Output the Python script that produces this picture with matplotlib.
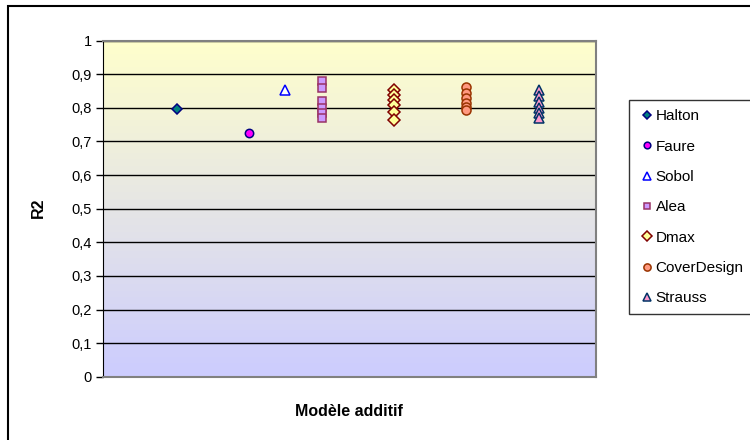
import matplotlib.pyplot as plt
import numpy as np
from matplotlib.patches import Rectangle

plt.rcParams['font.family'] = ['Liberation Sans', 'DejaVu Sans']

# valeurs
series = ['Halton', 'Faure', 'Sobol', 'Alea', 'Dmax', 'CoverDesign', 'Strauss']
x_pos = [1, 2, 2.5, 3, 4, 5, 6]
halton = [0.798]
faure = [0.725]
sobol = [0.853]
alea = [0.88, 0.86, 0.82, 0.80, 0.785, 0.77]
dmax = [0.853, 0.838, 0.823, 0.808, 0.789, 0.764]
coverdesign = [0.863, 0.845, 0.829, 0.814, 0.802, 0.794]
strauss = [0.853, 0.834, 0.818, 0.799, 0.784, 0.769]
values = [halton, faure, sobol, alea, dmax, coverdesign, strauss]

markers = ['D', 'o', '^', 's', 'D', 'o', '^']
faces = ['#008080', '#FF00FF', 'white', '#CC99FF', '#FFFF99', '#FF9980', '#FF99CC']
edges = ['#000080', '#000080', '#0000FF', '#993366', '#800000', '#993300', '#003366']
sizes = [5.5, 6, 6.5, 6, 6, 6.5, 6.5]

fig = plt.figure(figsize=(7.5, 4.4), dpi=100)
ax = fig.add_axes([103 / 750, 1 - 376.7 / 440, 493 / 750, 336 / 440])

# fond dégradé jaune -> lavande
top = np.array([1.0, 1.0, 0.8])
bottom = np.array([0.8, 0.8, 1.0])
t = np.linspace(0, 1, 256)[:, None]
grad = (top * (1 - t) + bottom * t)[:, None, :]
ax.imshow(grad, extent=[0, 1, 0, 1], transform=ax.transAxes, aspect='auto', zorder=0)

for name, xp, vals, m, fc, ec, ms in zip(series, x_pos, values, markers, faces, edges, sizes):
    ax.plot([xp] * len(vals), vals, linestyle='none', marker=m, markerfacecolor=fc,
            markeredgecolor=ec, markersize=ms, markeredgewidth=1.1, label=name, zorder=3)

ax.set_xlim(-0.02, 6.79)
ax.set_ylim(0, 1)
ax.set_yticks(np.arange(0, 1.01, 0.1))
ax.set_yticklabels(['0'] + ['0,%d' % i for i in range(1, 10)] + ['1'], fontsize=10.5)
ax.set_xticks([])
ax.yaxis.grid(True, color='black', linewidth=1)
ax.set_axisbelow(True)
ax.tick_params(axis='y', length=5, width=1, direction='out', pad=3)
ax.spines['left'].set_color('black')
for s in ['top', 'right', 'bottom']:
    ax.spines[s].set_color('#808080')
    ax.spines[s].set_linewidth(1.5)

fig.text(38 / 750, 1 - 208 / 440, 'R2', rotation=90, fontsize=11.5, fontweight='bold',
         ha='center', va='center')
fig.text(349 / 750, 1 - 411 / 440, 'Modèle additif', fontsize=11.5, fontweight='bold',
         ha='center', va='center')

leg = fig.legend(loc='upper left', bbox_to_anchor=(629 / 750, 1 - 100 / 440), fontsize=11,
                 frameon=True, fancybox=False, edgecolor='black', handletextpad=0.05,
                 handlelength=1.1, labelspacing=1.07, borderpad=0.6, borderaxespad=0,
                 markerscale=0.8)
leg.get_frame().set_linewidth(1)

# cadre du graphique
fig.patches.append(Rectangle((8 / 750, -0.1), 1.2, 1 - 6 / 440 + 0.1, transform=fig.transFigure,
                             fill=False, edgecolor='black', linewidth=1.5))

fig.savefig('out.png', dpi=100)
